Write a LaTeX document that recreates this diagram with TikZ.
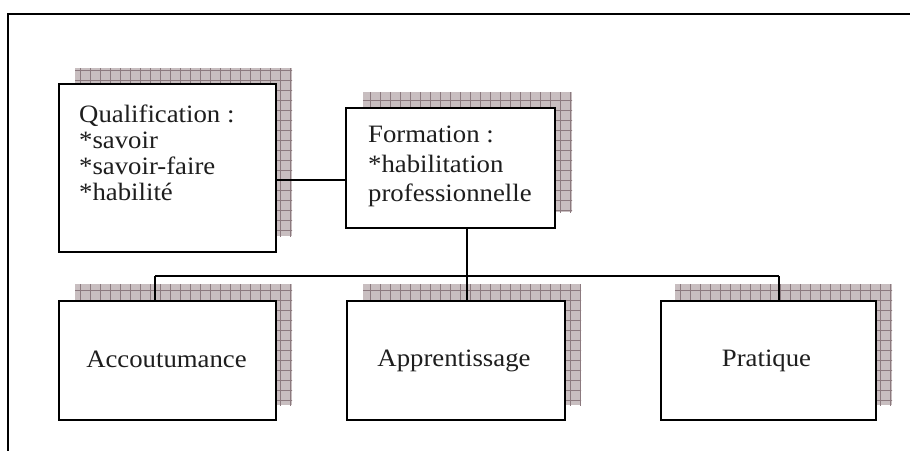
\documentclass[tikz,border=0pt]{standalone}
\usepackage{fontspec}
\setmainfont{Liberation Serif}[FakeStretch=1.07]
\definecolor{shfill}{RGB}{200,190,192}
\definecolor{shgrid}{RGB}{140,122,127}
\definecolor{txt}{RGB}{30,30,30}
\newcommand{\shbox}[4]{%
  \fill[shfill] (#1,#2) rectangle (#3,#4);
  \begin{scope}
    \clip (#1,#2) rectangle (#3,#4);
    \draw[shgrid,line width=0.6pt,step=10pt] (#1-10,#2-10) grid (#3+10,#4+10);
  \end{scope}}
\begin{document}
\begin{tikzpicture}[x=1pt,y=-1pt,
  boxst/.style={draw=black,fill=white,line width=2pt,rectangle,inner sep=0pt},
  conn/.style={draw=black,line width=1.6pt},
  frame/.style={draw=black,line width=2.4pt},
  lbl/.style={inner sep=0pt,text=txt,font=\fontsize{25}{26}\selectfont},
  ]
\useasboundingbox (0,0) rectangle (910,450);
% frame
\coordinate (fTL) at (8,14);
\coordinate (fTR) at (912,14);
\coordinate (fBL) at (8,452);
\draw[frame] (fBL) -- (fTL) -- (fTR);
% shadows
\shbox{75}{68}{292}{236}
\shbox{363}{92}{572}{212}
\shbox{75}{284}{292}{405}
\shbox{363}{284}{581}{405}
\shbox{675}{284}{892}{405}
% boxes
\node[boxst,minimum width=217pt,minimum height=168pt] (Q) at (167.5,168) {};
\node[boxst,minimum width=209pt,minimum height=120pt] (F) at (450.5,168) {};
\node[boxst,minimum width=217pt,minimum height=119pt] (A) at (167.5,360.5) {};
\node[boxst,minimum width=218pt,minimum height=119pt] (B) at (456,360.5) {};
\node[boxst,minimum width=215pt,minimum height=119pt] (C) at (768.5,360.5) {};
% texts
\node[lbl,anchor=north west,align=left] (Qt) at (79,105)
  {Qualification :\\*savoir\\*savoir-faire\\*habilité};
\node[lbl,anchor=north west,align=left,font=\fontsize{25}{29.5}\selectfont] (Ft) at (368,126)
  {Formation :\\*habilitation\\professionnelle};
\node[lbl,anchor=base] (At) at ([xshift=-1pt,yshift=-6.5pt]A.center) {Accoutumance};
\node[lbl,anchor=base] (Bt) at ([xshift=-2pt,yshift=-6pt]B.center) {Apprentissage};
\node[lbl,anchor=base] (Ct) at ([xshift=-2pt,yshift=-6pt]C.center) {Pratique};
% connectors
\draw[conn] ([yshift=-12pt]Q.east) -- ([yshift=-12pt]F.west);
\coordinate (busL) at (155,276);
\coordinate (busM) at (467,276);
\coordinate (busR) at (779,276);
\draw[conn] (busM |- F.south) -- (busM);
\draw[conn] (busL) -- (busR);
\draw[conn] (busL) -- (busL |- A.north);
\draw[conn] (busM) -- (busM |- B.north);
\draw[conn] (busR) -- (busR |- C.north);
\end{tikzpicture}
\end{document}
